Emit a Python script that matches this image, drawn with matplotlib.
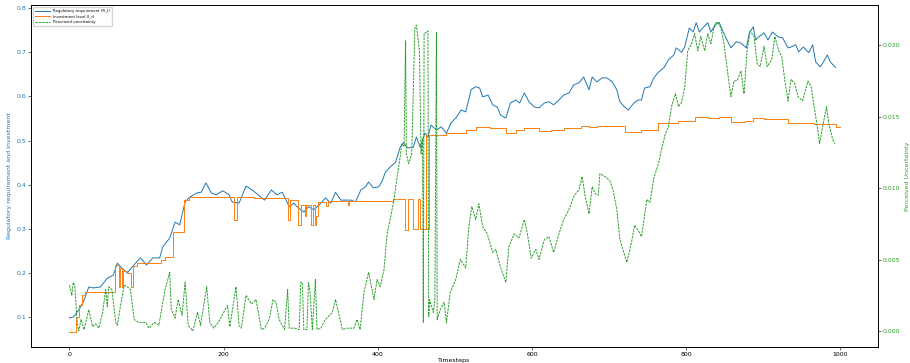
import matplotlib
matplotlib.use('Agg')
import matplotlib.pyplot as plt
import numpy as np

# Regulatory requirement R_t
reg_t = [0, 5, 12, 18, 25, 31, 40, 49, 57, 62, 68, 75, 81, 92, 100, 108, 117, 121, 130, 137,
         143, 150, 156, 165, 171, 177, 184, 190, 199, 207, 211, 220, 229, 237, 246, 253, 262, 269, 276, 281,
         285, 291, 297, 304, 310, 317, 326, 332, 339, 345, 352, 358, 365, 371, 378, 384, 388, 394, 401, 405,
         410, 416, 423, 429, 433, 439, 446, 450, 455, 461, 465, 469, 476, 482, 489, 495, 502, 508, 514, 521,
         527, 532, 536, 543, 549, 555, 559, 566, 572, 579, 584, 590, 596, 603, 609, 616, 622, 628, 635, 641,
         648, 654, 661, 667, 674, 678, 684, 691, 697, 704, 710, 714, 720, 725, 732, 738, 742, 746, 753, 758,
         764, 771, 777, 784, 787, 794, 798, 804, 809, 813, 817, 823, 828, 832, 839, 843, 848, 854, 858, 865,
         871, 878, 882, 887, 890, 894, 901, 906, 912, 919, 925, 932, 936, 942, 946, 952, 959, 964, 968, 974,
         978, 983, 987, 994]
reg_v = [0.098, 0.100, 0.116, 0.134, 0.168, 0.166, 0.168, 0.188, 0.195, 0.222, 0.211, 0.200, 0.213, 0.234, 0.218, 0.234, 0.234, 0.259, 0.279, 0.315,
         0.309, 0.361, 0.372, 0.381, 0.383, 0.404, 0.381, 0.377, 0.386, 0.377, 0.361, 0.358, 0.397, 0.388, 0.375, 0.365, 0.388, 0.377, 0.383, 0.365,
         0.350, 0.358, 0.347, 0.338, 0.350, 0.343, 0.358, 0.370, 0.358, 0.383, 0.365, 0.365, 0.365, 0.361, 0.388, 0.395, 0.406, 0.393, 0.395, 0.406,
         0.429, 0.440, 0.451, 0.485, 0.495, 0.483, 0.485, 0.508, 0.485, 0.517, 0.508, 0.535, 0.524, 0.531, 0.517, 0.540, 0.553, 0.569, 0.565, 0.615,
         0.622, 0.619, 0.599, 0.603, 0.581, 0.576, 0.558, 0.551, 0.585, 0.592, 0.585, 0.608, 0.588, 0.576, 0.574, 0.585, 0.588, 0.581, 0.592, 0.603,
         0.608, 0.626, 0.631, 0.644, 0.615, 0.644, 0.633, 0.642, 0.642, 0.633, 0.615, 0.588, 0.576, 0.569, 0.585, 0.592, 0.592, 0.619, 0.622, 0.642,
         0.655, 0.665, 0.683, 0.694, 0.710, 0.700, 0.712, 0.755, 0.746, 0.767, 0.746, 0.758, 0.767, 0.746, 0.767, 0.767, 0.746, 0.724, 0.710, 0.724,
         0.721, 0.710, 0.744, 0.758, 0.728, 0.735, 0.744, 0.728, 0.746, 0.735, 0.733, 0.710, 0.712, 0.717, 0.701, 0.712, 0.699, 0.717, 0.678, 0.667,
         0.678, 0.694, 0.678, 0.665]

# Investment level I_t (held between changes)
inv_t = [0, 9, 12, 16, 20, 59, 64, 66, 68, 70, 74, 80, 83, 88, 119, 124, 134, 149, 155, 213,
         217, 240, 284, 286, 296, 300, 305, 307, 313, 316, 318, 320, 322, 333, 335, 361, 363, 400, 420, 435,
         439, 445, 452, 455, 462, 463, 467, 489, 514, 527, 545, 566, 579, 590, 609, 625, 641, 664, 674, 684,
         704, 720, 742, 764, 790, 811, 828, 843, 858, 876, 887, 901, 914, 932, 952, 966, 978, 994, 999]
inv_v = [0.066, 0.100, 0.127, 0.150, 0.157, 0.218, 0.168, 0.210, 0.168, 0.205, 0.200, 0.168, 0.215, 0.222, 0.229, 0.236, 0.293, 0.365, 0.372, 0.320,
         0.372, 0.370, 0.320, 0.365, 0.309, 0.355, 0.330, 0.355, 0.309, 0.355, 0.309, 0.330, 0.360, 0.352, 0.362, 0.355, 0.362, 0.364, 0.367, 0.297,
         0.367, 0.300, 0.367, 0.300, 0.513, 0.300, 0.513, 0.517, 0.524, 0.531, 0.528, 0.517, 0.524, 0.529, 0.522, 0.524, 0.529, 0.532, 0.530, 0.532,
         0.533, 0.520, 0.524, 0.540, 0.544, 0.553, 0.552, 0.553, 0.542, 0.544, 0.551, 0.548, 0.549, 0.540, 0.540, 0.538, 0.538, 0.531, 0.531]

# Perceived uncertainty
unc_t = [0, 3, 5, 7, 10, 12, 15, 19, 25, 30, 34, 38, 43, 47, 49, 51, 55, 60, 62, 66,
         71, 75, 79, 84, 90, 99, 103, 110, 116, 120, 124, 130, 132, 137, 141, 146, 150, 154, 160, 166,
         170, 178, 182, 187, 193, 200, 205, 208, 216, 220, 223, 229, 236, 242, 245, 249, 253, 259, 264, 268,
         272, 279, 283, 285, 292, 298, 300, 302, 304, 308, 310, 312, 315, 319, 321, 326, 332, 341, 345, 349,
         354, 360, 369, 373, 377, 382, 388, 395, 399, 403, 408, 412, 416, 421, 425, 429, 431, 434, 436, 437,
         440, 444, 448, 450, 454, 456, 458, 459, 460, 463, 465, 466, 467, 472, 474, 476, 477, 481, 486, 489,
         494, 501, 507, 514, 518, 522, 527, 531, 536, 542, 549, 553, 559, 566, 570, 577, 583, 590, 594, 599,
         605, 609, 616, 622, 628, 635, 641, 648, 654, 661, 665, 669, 674, 678, 682, 686, 688, 695, 701, 705,
         710, 714, 718, 723, 729, 733, 737, 742, 749, 753, 758, 764, 768, 773, 777, 781, 786, 790, 794, 798,
         802, 807, 811, 815, 819, 824, 828, 832, 836, 841, 845, 849, 854, 858, 862, 866, 871, 875, 879, 883,
         888, 892, 896, 901, 905, 911, 915, 920, 924, 928, 932, 936, 941, 945, 951, 958, 962, 966, 970, 973,
         977, 982, 985, 990, 993]
unc_v = [0.0032, 0.0025, 0.0034, 0.0031, 0.0006, 0.0000, 0.0008, 0.0001, 0.0015, 0.0003, 0.0005, 0.0002, 0.0013, 0.0029, 0.0017, 0.0031, 0.0029, 0.0006, 0.0004, 0.0017,
         0.0032, 0.0031, 0.0029, 0.0008, 0.0006, 0.0006, 0.0002, 0.0006, 0.0004, 0.0017, 0.0029, 0.0041, 0.0015, 0.0009, 0.0022, 0.0011, 0.0034, 0.0004, 0.0000, 0.0013,
         0.0004, 0.0031, 0.0006, 0.0002, 0.0006, 0.0013, 0.0018, 0.0003, 0.0031, 0.0004, 0.0002, 0.0025, 0.0019, 0.0022, 0.0013, 0.0001, 0.0002, 0.0008, 0.0022, 0.0020,
         0.0008, 0.0001, 0.0029, 0.0002, 0.0002, 0.0001, 0.0034, 0.0034, 0.0001, 0.0001, 0.0034, 0.0028, 0.0001, 0.0036, 0.0001, 0.0002, 0.0008, 0.0013, 0.0022, 0.0013,
         0.0001, 0.0002, 0.0002, 0.0008, 0.0001, 0.0027, 0.0041, 0.0022, 0.0036, 0.0031, 0.0043, 0.0068, 0.0078, 0.0092, 0.0108, 0.0122, 0.0131, 0.0129, 0.0203, 0.0124,
         0.0117, 0.0124, 0.0212, 0.0214, 0.0196, 0.0124, 0.0135, 0.0006, 0.0208, 0.0209, 0.0210, 0.0010, 0.0022, 0.0013, 0.0022, 0.0209, 0.0008, 0.0015, 0.0020, 0.0006,
         0.0027, 0.0036, 0.0050, 0.0044, 0.0073, 0.0087, 0.0078, 0.0089, 0.0073, 0.0068, 0.0055, 0.0057, 0.0045, 0.0034, 0.0059, 0.0068, 0.0065, 0.0078, 0.0068, 0.0051,
         0.0057, 0.0050, 0.0064, 0.0066, 0.0055, 0.0068, 0.0078, 0.0085, 0.0094, 0.0099, 0.0108, 0.0094, 0.0082, 0.0101, 0.0096, 0.0095, 0.0110, 0.0108, 0.0105, 0.0099,
         0.0085, 0.0064, 0.0057, 0.0048, 0.0062, 0.0074, 0.0071, 0.0066, 0.0092, 0.0090, 0.0107, 0.0117, 0.0127, 0.0138, 0.0143, 0.0157, 0.0166, 0.0157, 0.0160, 0.0170,
         0.0196, 0.0201, 0.0208, 0.0196, 0.0206, 0.0196, 0.0208, 0.0201, 0.0212, 0.0216, 0.0212, 0.0201, 0.0180, 0.0164, 0.0175, 0.0175, 0.0182, 0.0166, 0.0196, 0.0210,
         0.0206, 0.0187, 0.0185, 0.0199, 0.0185, 0.0190, 0.0206, 0.0196, 0.0192, 0.0175, 0.0161, 0.0176, 0.0173, 0.0164, 0.0161, 0.0175, 0.0171, 0.0157, 0.0143, 0.0131,
         0.0143, 0.0157, 0.0145, 0.0134, 0.0131]

fs = 4.5
lw = 0.7

fig, ax1 = plt.subplots(figsize=(9.1, 3.63), dpi=100)
fig.subplots_adjust(left=0.034, right=0.965, top=0.986, bottom=0.044)

l1, = ax1.plot(reg_t, reg_v, color='tab:blue', lw=lw, label='Regulatory requirement (R_t)')
l2, = ax1.plot(inv_t, inv_v, color='tab:orange', lw=lw, drawstyle='steps-post', label='Investment level (I_t)')
ax1.set_xlim(-50, 1049)
ax1.set_ylim(0.032, 0.807)
ax1.set_xlabel('Timesteps', fontsize=fs, labelpad=1)
ax1.set_ylabel('Regulatory requirement and investment', color='tab:blue', fontsize=fs, labelpad=3)
ax1.tick_params(axis='y', labelcolor='tab:blue')
ax1.tick_params(labelsize=fs, width=0.4, length=2, pad=1.5)

ax2 = ax1.twinx()
l3, = ax2.plot(unc_t, unc_v, color='tab:green', lw=lw, ls='--', dashes=(2.5, 1), label='Perceived uncertainty')
ax2.set_ylim(-0.00112, 0.0228)
ax2.set_ylabel('Perceived Uncertainty', color='tab:green', fontsize=fs, labelpad=3)
ax2.tick_params(axis='y', labelcolor='tab:green', labelsize=fs, width=0.4, length=2, pad=1.5)

for a in (ax1, ax2):
    for s in a.spines.values():
        s.set_linewidth(0.6)

ax1.legend([l1, l2, l3], [l.get_label() for l in (l1, l2, l3)], loc='upper left',
           fontsize=2.8, handlelength=4, borderpad=0.5, labelspacing=0.4, framealpha=0.8)

plt.savefig('out.png', dpi=100)
